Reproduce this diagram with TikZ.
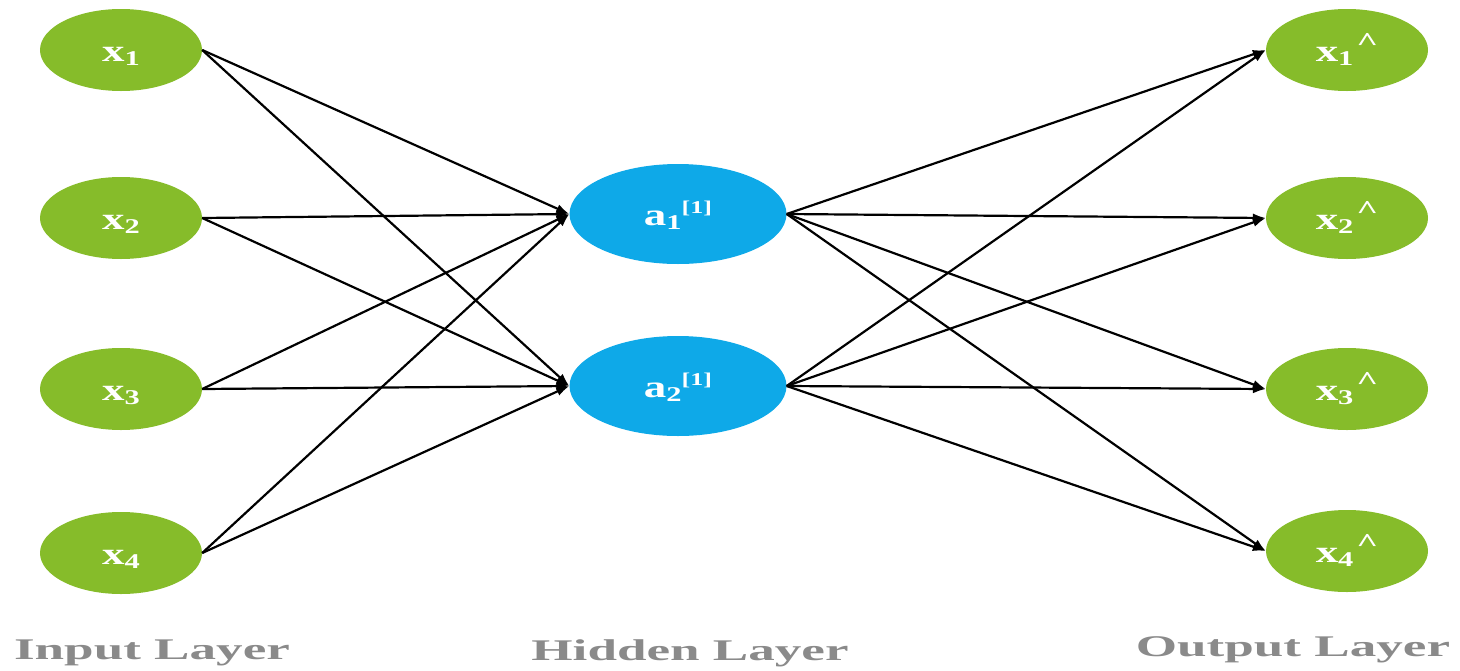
\documentclass[tikz,border=0pt]{standalone}
\usepackage{fontspec}
\setmainfont{Liberation Serif}
\usetikzlibrary{shapes.geometric,arrows.meta}
\definecolor{ngreen}{HTML}{86BC2A}
\definecolor{nblue}{HTML}{0EA9E8}
\definecolor{lgray}{HTML}{8A8A8A}
\newcommand\nodetxt[1]{\raisebox{-11pt}[0pt][0pt]{\scalebox{1.45}[1]{\bfseries #1}}}
\newcommand\subx[1]{\raisebox{-0.35ex}{\fontsize{21}{21}\selectfont\bfseries #1}}
\newcommand\supx[1]{\raisebox{0.8ex}{\fontsize{18}{18}\selectfont\bfseries #1}}
\newcommand\hatx{\raisebox{0.75ex}{\fontsize{26}{26}\selectfont\bfseries\kern2pt\textasciicircum}}
\newcommand\laytxt[1]{\scalebox{1.77}[1]{\bfseries #1}}
\begin{document}
\begin{tikzpicture}[x=1pt,y=-1pt,
  inode/.style={ellipse, fill=ngreen, minimum width=162pt, minimum height=82pt, inner sep=0pt, text=white, font=\fontsize{31}{33}\selectfont},
  hnode/.style={ellipse, fill=nblue, minimum width=217pt, minimum height=100pt, inner sep=0pt, text=white, font=\fontsize{31}{33}\selectfont},
  conn/.style={line width=2.2pt, black, -{Latex[length=13pt,width=9pt]}},
  layer/.style={text=lgray, font=\fontsize{30}{32}\selectfont}
]
\useasboundingbox (0,0) rectangle (1460,670);
% input layer
\node[inode] (x1) at (121,50) {\nodetxt{x\subx{1}}};
\node[inode] (x2) at (121,218) {\nodetxt{x\subx{2}}};
\node[inode] (x3) at (121,389) {\nodetxt{x\subx{3}}};
\node[inode] (x4) at (121,553) {\nodetxt{x\subx{4}}};
% hidden layer
\node[hnode] (a1) at (678,214) {\nodetxt{a\subx{1}\supx{[1]}}};
\node[hnode] (a2) at (678,386) {\nodetxt{a\subx{2}\supx{[1]}}};
% output layer
\node[inode] (y1) at (1347,50) {\nodetxt{x\subx{1}\hatx}};
\node[inode] (y2) at (1347,218) {\nodetxt{x\subx{2}\hatx}};
\node[inode] (y3) at (1347,389) {\nodetxt{x\subx{3}\hatx}};
\node[inode] (y4) at (1347,551) {\nodetxt{x\subx{4}\hatx}};
% connectors
\foreach \i in {1,2,3,4}{
  \foreach \h in {1,2}{
    \draw[conn] (x\i.east) -- (a\h.west);
    \draw[conn] (a\h.east) -- (y\i.west);
  }
}
% layer labels
\node[layer] (lin) at (152,653) {\laytxt{Input Layer}};
\node[layer] (lhid) at (690,653) {\laytxt{Hidden Layer}};
\node[layer] (lout) at (1293,650) {\laytxt{Output Layer}};
\end{tikzpicture}
\end{document}
